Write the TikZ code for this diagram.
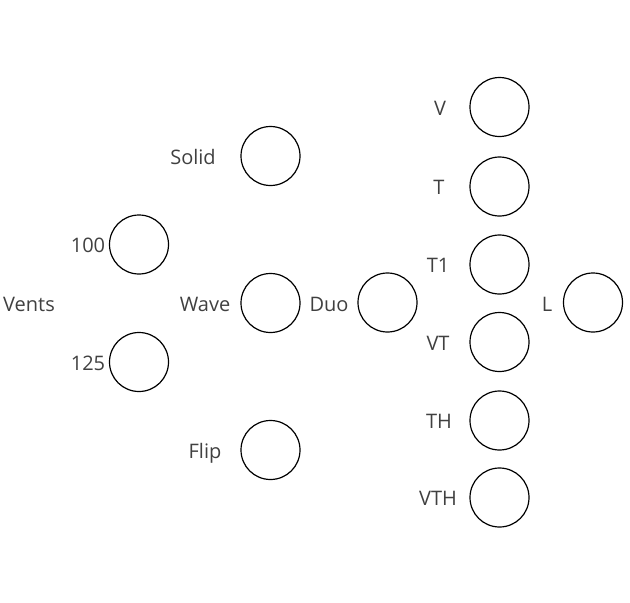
\documentclass[tikz,border=0pt]{standalone}
\usepackage{fontspec}
\setmainfont{Open Sans}
\usetikzlibrary{positioning}

\tikzset{
  slot/.style={draw=black, line width=1.2pt, circle, minimum size=59pt, inner sep=0pt},
  tag/.style={anchor=base, font=\fontsize{20}{24}\selectfont, text=black!75, inner sep=0pt}
}

\begin{document}
\begin{tikzpicture}[x=1pt, y=-1pt]
    \useasboundingbox (0,0) rectangle (630,603);

    % first column
    \node[tag] (vents) at (29,311) {Vents};
    \node[slot] (c100) at (139,244.5) {};
    \node[tag] (l100) at (88,252.5) {100};
    \node[slot] (c125) at (139,362) {};
    \node[tag] (l125) at (88,370) {125};

    % second column
    \node[slot] (solid) at (270.5,156) {};
    \node[tag] (lsolid) at (193,164) {Solid};
    \node[slot] (wave) at (270.5,303) {};
    \node[tag] (lwave) at (205,311) {Wave};
    \node[slot] (flip) at (270.5,450) {};
    \node[tag] (lflip) at (205,458) {Flip};

    % duo
    \node[slot] (duo) at (387.5,302.5) {};
    \node[tag] (lduo) at (329,311) {Duo};

    % third column
    \node[slot] (v) at (499.5,107) {};
    \node[tag] (lv) at (440,115) {V};
    \node[slot] (t) at (499.5,186.5) {};
    \node[tag] (lt) at (439,194.5) {T};
    \node[slot] (t1) at (499.5,264.5) {};
    \node[tag] (lt1) at (438,272.5) {T1};
    \node[slot] (vt) at (499.5,342) {};
    \node[tag] (lvt) at (438,350) {VT};
    \node[slot] (th) at (499.5,420.5) {};
    \node[tag] (lth) at (439,428.5) {TH};
    \node[slot] (vth) at (499.5,497.5) {};
    \node[tag] (lvth) at (438,505.5) {VTH};

    % last one
    \node[slot] (l) at (593,302.5) {};
    \node[tag] (ll) at (547,311) {L};
\end{tikzpicture}
\end{document}
